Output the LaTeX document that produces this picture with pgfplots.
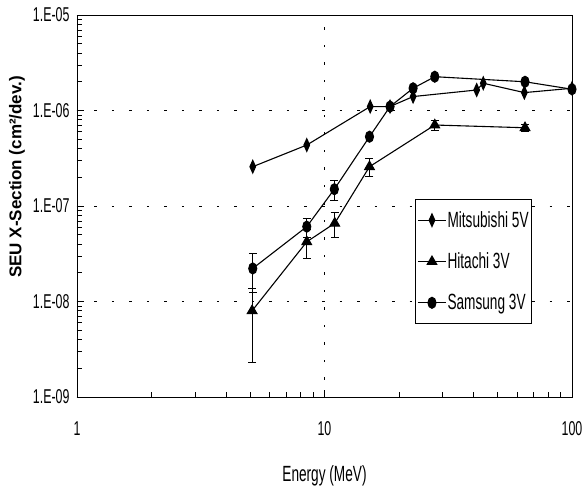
\documentclass[border=0pt]{standalone}
\usepackage{pgfplots}
\pgfplotsset{compat=1.18}
\usepackage{fontspec}
\setmainfont{Liberation Sans}
\newfontfamily\narrow{Liberation Sans}[FakeStretch=0.62]
\begin{document}
\begin{tikzpicture}
\useasboundingbox (-77pt,-91pt) rectangle (510pt,397pt);
\begin{axis}[
  scale only axis,
  width=495pt, height=382pt,
  anchor=south west, at={(0pt,0pt)},
  xmode=log, ymode=log,
  xmin=1, xmax=100, ymin=1e-9, ymax=1e-5,
  xtick={1,10,100}, xticklabels={1,10,100},
  ytick={1e-9,1e-8,1e-7,1e-6,1e-5},
  yticklabels={1.E-09,1.E-08,1.E-07,1.E-06,1.E-05},
  tick pos=left, tick align=inside,
  major tick length=7pt, minor tick length=5pt,
  tick style={black, line width=0.6pt},
  grid=major,
  major grid style={black, line width=0.7pt, dash pattern=on 2.5pt off 15pt},
  axis line style={black, line width=0.9pt},
  ticklabel style={font=\narrow\fontsize{20}{20}\selectfont},
  xticklabel style={yshift=-21pt},
  yticklabel style={xshift=-4pt},
  /pgf/number format/assume math mode=true,
  xlabel={Energy (MeV)},
  xlabel style={font=\narrow\fontsize{22}{22}\selectfont, at={(axis description cs:0.5,0)}, anchor=center, yshift=-79pt},
  ylabel={SEU X-Section (cm²/dev.)},
  ylabel style={font=\fontsize{17}{17}\selectfont\bfseries, at={(axis description cs:0,0.576)}, anchor=center, yshift=60pt},
  legend style={at={(0.683,0.518)}, anchor=north west, draw=black, line width=0.7pt,
    font=\narrow\fontsize{22}{22}\selectfont, row sep=20pt, inner xsep=2pt, inner ysep=10pt,
    nodes={inner xsep=1pt}},
  legend cell align=left,
  legend image code/.code={\draw[mark repeat=2,mark phase=2,#1] plot coordinates {(0pt,0pt) (14pt,0pt) (28pt,0pt)};},
]
% Mitsubishi 5V
\addplot[black, line width=1.1pt, mark=diamond*, mark options={xscale=0.75, yscale=1.25}, mark size=5pt]
  coordinates {(5.13,2.58e-7) (8.48,4.35e-7) (15.3,1.10e-6) (18.4,1.10e-6) (22.8,1.40e-6) (41.2,1.64e-6) (43.8,1.93e-6) (64.2,1.54e-6) (100,1.71e-6)};
\addlegendentry{Mitsubishi 5V}
% Hitachi 3V
\addplot[black, line width=1.1pt, mark=triangle*, mark size=5.5pt,
  error bars/.cd, y dir=both, y explicit, error bar style={line width=1pt},
  error mark options={rotate=90, mark size=4pt, line width=1pt}]
  table[x=x, y=y, y error=e] {
  x y e
  5.1 8.0e-9 5.7e-9
  8.48 4.22e-8 1.4e-8
  11.0 6.6e-8 1.9e-8
  15.2 2.58e-7 0.55e-7
  27.9 7.05e-7 0.8e-7
  64.6 6.6e-7 0.5e-7
  };
\addlegendentry{Hitachi 3V}
% Samsung 3V
\addplot[black, line width=1.1pt, mark=*, mark options={xscale=0.8, yscale=1.1}, mark size=5pt,
  error bars/.cd, y dir=both, y explicit, error bar style={line width=1pt},
  error mark options={rotate=90, mark size=4pt, line width=1pt}]
  table[x=x, y=y, y error=e] {
  x y e
  5.13 2.22e-8 0.97e-8
  8.48 6.08e-8 1.35e-8
  10.96 1.5e-7 0.35e-7
  15.2 5.32e-7 0
  18.4 1.10e-6 0
  22.8 1.71e-6 0
  27.9 2.26e-6 0
  64.6 2.0e-6 0
  100 1.67e-6 0
  };
\addlegendentry{Samsung 3V}
\end{axis}
\end{tikzpicture}
\end{document}
